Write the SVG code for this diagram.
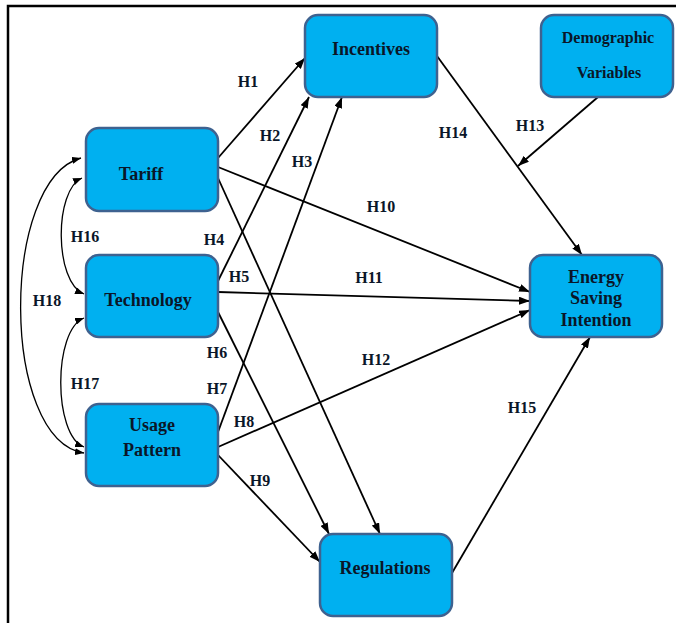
<svg xmlns="http://www.w3.org/2000/svg" width="676" height="623" viewBox="0 0 676 623">
<defs>
<style>
.box{fill:#00b0f0;stroke:#3e6290;stroke-width:2.5}
.nt{font-family:"Liberation Serif","Times New Roman",serif;font-weight:bold;font-size:18px;fill:#0a1628;text-anchor:middle}
.dt{font-size:16px}
.lb{font-family:"Liberation Serif","Times New Roman",serif;font-weight:bold;font-size:16px;fill:#0a1628;text-anchor:middle}
.ln{fill:none;stroke:#000;stroke-width:1.8;marker-end:url(#ah)}
.cv{fill:none;stroke:#000;stroke-width:1.3;marker-start:url(#ahs);marker-end:url(#ahs)}
</style>
<marker id="ah" markerUnits="userSpaceOnUse" markerWidth="11" markerHeight="8" refX="11" refY="4" orient="auto">
<path d="M0,0 L11,4 L0,8 z" fill="#000"/>
</marker>
<marker id="ahs" markerUnits="userSpaceOnUse" markerWidth="9" markerHeight="7" refX="9" refY="3.5" orient="auto-start-reverse">
<path d="M0,0 L9,3.5 L0,7 z" fill="#000"/>
</marker>
</defs>
<rect width="676" height="623" fill="#fff"/>
<path d="M8 623 L8 6 L676 6" fill="none" stroke="#000" stroke-width="2.5"/>
<g id="connectors">
<path class="ln" d="M218 158 L305 58"/>
<path class="ln" d="M218 167 L530 292"/>
<path class="ln" d="M218 178 L380 534"/>
<path class="ln" d="M218 281 L309 97"/>
<path class="ln" d="M218 292 L530 301"/>
<path class="ln" d="M218 312 L329 534"/>
<path class="ln" d="M218 432 L342 97"/>
<path class="ln" d="M218 447 L530 310"/>
<path class="ln" d="M218 455 L320 562"/>
<path class="ln" d="M452 573 L590 337"/>
<path class="ln" d="M437 56 L582 255"/>
<path class="ln" d="M598 97 L518 166"/>
<path class="cv" d="M82 178 C54 190 54 282 84 294"/>
<path class="cv" d="M84 318 C53 330 53 435 84 447"/>
<path class="cv" d="M81 158 C0 180 0 440 84 453"/>
</g>
<g id="labels">
<text class="lb" x="248" y="87">H1</text>
<text class="lb" x="270" y="141">H2</text>
<text class="lb" x="302" y="167">H3</text>
<text class="lb" x="214" y="245">H4</text>
<text class="lb" x="239" y="282">H5</text>
<text class="lb" x="217" y="358">H6</text>
<text class="lb" x="217" y="394">H7</text>
<text class="lb" x="244" y="427">H8</text>
<text class="lb" x="260" y="486">H9</text>
<text class="lb" x="381" y="212">H10</text>
<text class="lb" x="369" y="283">H11</text>
<text class="lb" x="376" y="365">H12</text>
<text class="lb" x="530" y="131">H13</text>
<text class="lb" x="453" y="138">H14</text>
<text class="lb" x="522" y="413">H15</text>
<text class="lb" x="85" y="242">H16</text>
<text class="lb" x="85" y="389">H17</text>
<text class="lb" x="47" y="306">H18</text>
</g>
<g id="incentives">
<rect class="box" x="305" y="15" width="132" height="82" rx="13"/>
<text class="nt" x="371" y="55">Incentives</text>
</g>
<g id="demographic">
<rect class="box" x="541" y="15" width="132" height="82" rx="13"/>
<text class="nt dt" x="608" y="43">Demographic</text>
<text class="nt dt" x="609" y="78">Variables</text>
</g>
<g id="tariff">
<rect class="box" x="86" y="128" width="132" height="83" rx="13"/>
<text class="nt" x="141" y="180">Tariff</text>
</g>
<g id="technology">
<rect class="box" x="86" y="255" width="132" height="82" rx="13"/>
<text class="nt" x="148" y="306">Technology</text>
</g>
<g id="usage">
<rect class="box" x="86" y="404" width="132" height="82" rx="13"/>
<text class="nt" x="152" y="431">Usage</text>
<text class="nt" x="152" y="456">Pattern</text>
</g>
<g id="energy">
<rect class="box" x="530" y="255" width="132" height="82" rx="13"/>
<text class="nt" x="596" y="283">Energy</text>
<text class="nt" x="596" y="304">Saving</text>
<text class="nt" x="596" y="326">Intention</text>
</g>
<g id="regulations">
<rect class="box" x="320" y="534" width="132" height="82" rx="13"/>
<text class="nt" x="385" y="574">Regulations</text>
</g>
</svg>
